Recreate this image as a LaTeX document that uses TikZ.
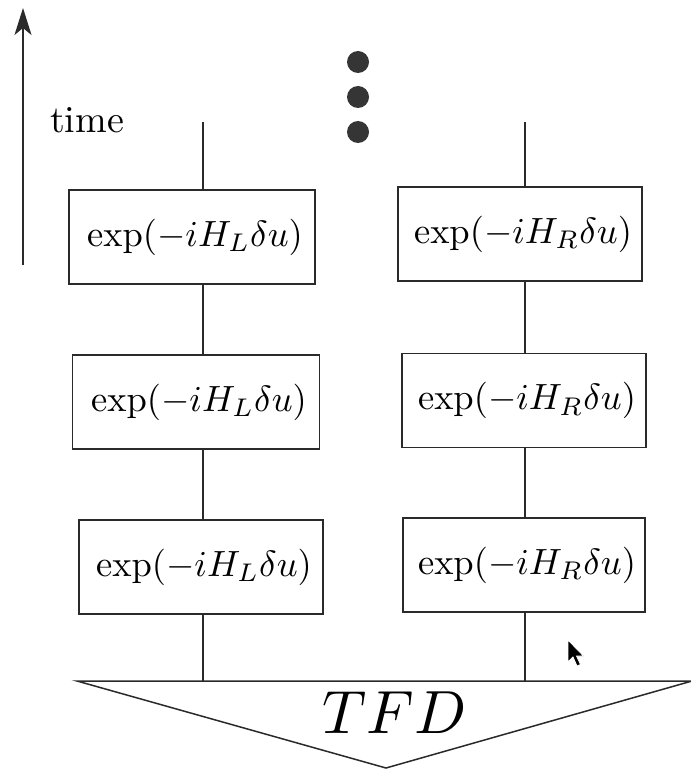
\documentclass[tikz,border=0pt]{standalone}
\usepackage{graphicx}
\usetikzlibrary{arrows.meta}
\definecolor{ink}{HTML}{2A2A2A}
\newcommand\boxtext[1]{\hspace*{6pt}\scalebox{3.65}{$#1$}}
\begin{document}
\begin{tikzpicture}[x=1pt,y=-1pt,
  opbox/.style={draw=ink,line width=1.5pt,minimum width=245pt,minimum height=94pt,inner sep=0pt},
  wire/.style={draw=ink,line width=1.3pt},
  dotstyle/.style={circle,fill=ink!95,inner sep=0pt,minimum size=22pt}]
\useasboundingbox (0,0) rectangle (690,770);
% time arrow
\coordinate (ab) at (23,265);
\coordinate (at) at (23,8);
\draw[ink,line width=1.6pt,-{Stealth[length=27pt,width=17pt,inset=7pt]}] (ab) -- (at);
\node[anchor=base west,inner sep=0pt] (time) at (50,133) {\scalebox{3.8}{time}};
% dots
\node[dotstyle] (d1) at (358,62) {};
\node[dotstyle] (d2) at (358,97) {};
\node[dotstyle] (d3) at (358,132) {};
% left boxes
\node[opbox,minimum width=246pt] (L1) at (192,237) {\boxtext{\exp(-iH_L\delta u)}};
\node[opbox,minimum width=247pt] (L2) at (196,402) {\boxtext{\exp(-iH_L\delta u)}};
\node[opbox,minimum width=244pt] (L3) at (201,567) {\boxtext{\exp(-iH_L\delta u)}};
% right boxes
\node[opbox,minimum width=244pt] (R1) at (520,234) {\boxtext{\exp(-iH_R\delta u)}};
\node[opbox,minimum width=244pt] (R2) at (524,400.5) {\boxtext{\exp(-iH_R\delta u)}};
\node[opbox,minimum width=242pt] (R3) at (524,565) {\boxtext{\exp(-iH_R\delta u)}};
% triangle
\coordinate (TL) at (77,681);
\coordinate (TR) at (692,681);
\coordinate (TA) at (386,768);
\draw[ink,line width=1.5pt,line join=miter] (TL) -- (TR) -- (TA) -- cycle;
\node[anchor=base,inner sep=0pt] (tfd) at (394.5,733) {\scalebox{6.1}{$TFD$}};
% wires
\coordinate (Lt) at (203,122);
\coordinate (Rt) at (525,122);
\draw[wire] (Lt) -- (Lt |- L1.north);
\draw[wire] (Lt |- L1.south) -- (Lt |- L2.north);
\draw[wire] (Lt |- L2.south) -- (Lt |- L3.north);
\draw[wire] (Lt |- L3.south) -- (Lt |- TL);
\draw[wire] (Rt) -- (Rt |- R1.north);
\draw[wire] (Rt |- R1.south) -- (Rt |- R2.north);
\draw[wire] (Rt |- R2.south) -- (Rt |- R3.north);
\draw[wire] (Rt |- R3.south) -- (Rt |- TL);
% mouse cursor
\coordinate (c0) at (568,640);
\fill[black,draw=white,line width=0.8pt] (c0) -- ++(0,22) -- ++(5,-5) -- ++(4,9) -- ++(3.5,-1.5) -- ++(-4,-8.5) -- ++(7,0) -- cycle;
\end{tikzpicture}
\end{document}
